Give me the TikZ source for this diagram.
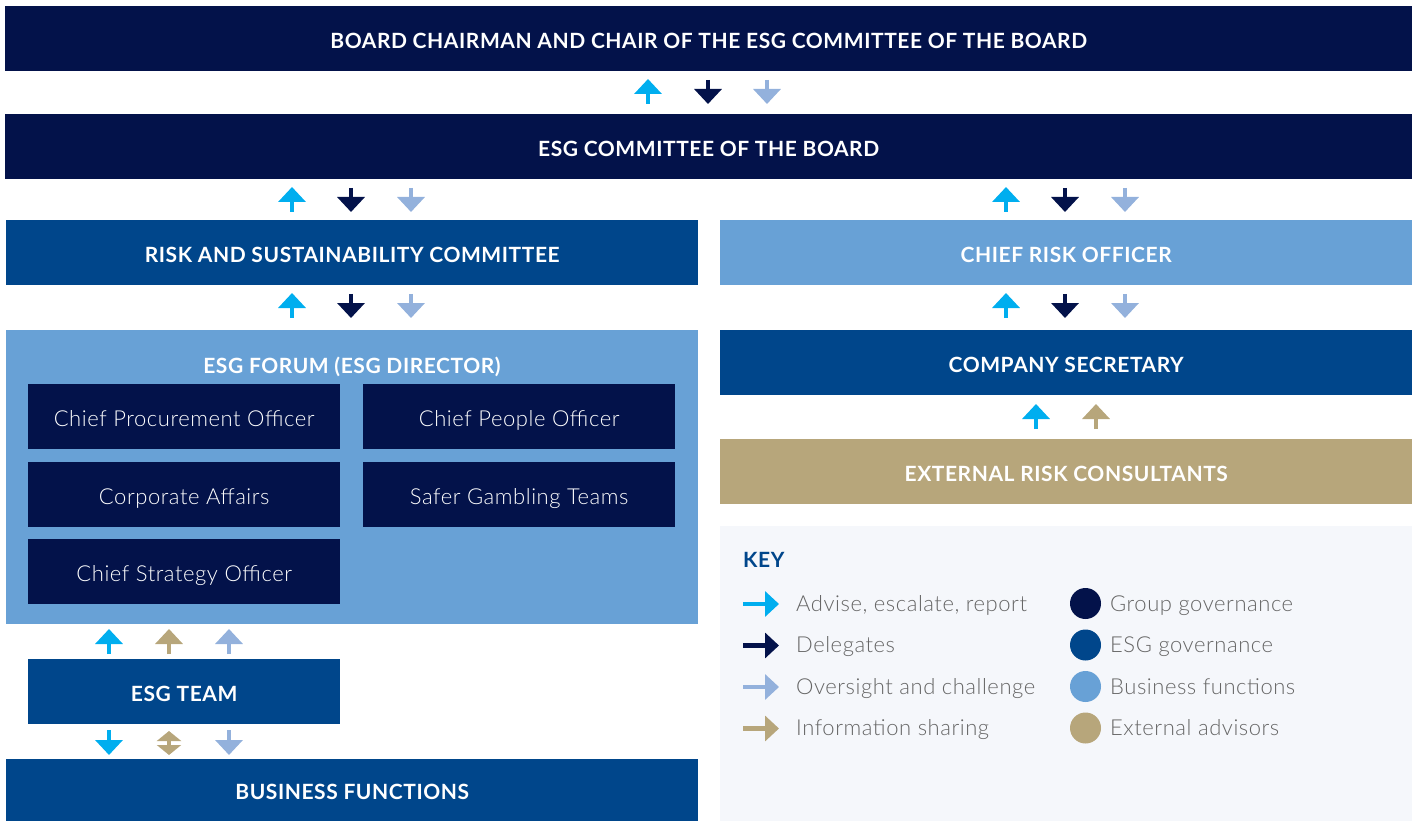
\documentclass[tikz,border=0pt]{standalone}
\usepackage{fontspec}
\setmainfont{Lato}
\newfontfamily\headf{Lato}[LetterSpace=2.7]
\newfontfamily\lightf{Lato Light}[LetterSpace=2.5]
\usetikzlibrary{arrows.meta}
\definecolor{navy}{HTML}{03124A}
\definecolor{esgb}{HTML}{00468B}
\definecolor{lightb}{HTML}{68A1D6}
\definecolor{tanc}{HTML}{B7A67B}
\definecolor{cyanA}{HTML}{00AEEF}
\definecolor{lightA}{HTML}{93B1DC}
\definecolor{keybg}{HTML}{F5F7FB}
\definecolor{keytxt}{HTML}{666666}
\tikzset{
  box/.style={draw=none, anchor=north west, inner sep=0pt, text=white,
     text height=19pt, text depth=0pt,
     font=\fontsize{21}{24}\headf\bfseries},
  inbox/.style={draw=none, fill=navy, anchor=north west, inner sep=0pt, text=white,
     text height=19pt, text depth=0pt,
     minimum width=312pt, minimum height=65pt, font=\fontsize{22}{26}\lightf},
  varr/.style={line width=4.6pt, line cap=butt, draw=#1, -{Triangle[width=27pt,length=15pt]}},
  darr/.style={line width=4.6pt, line cap=butt, draw=#1, {Triangle[width=24pt,length=10pt]}-{Triangle[width=24pt,length=10pt]}},
  karr/.style={line width=4.4pt, line cap=butt, draw=#1, -{Triangle[width=25pt,length=14pt]}},
  ktxt/.style={anchor=west, inner sep=0pt, text=keytxt, text height=16pt, text depth=0pt,
     font=\fontsize{22}{26}\lightf},
  kdot/.style={circle, fill=#1, minimum size=31pt, inner sep=0pt},
}
\begin{document}
\begin{tikzpicture}[x=1pt,y=-1pt]
\useasboundingbox (0,0) rectangle (1417,821);
% main boxes
\node[box, fill=navy, minimum width=1407pt, minimum height=65pt] (board) at (5,6) {BOARD CHAIRMAN AND CHAIR OF THE ESG COMMITTEE OF THE BOARD};
\node[box, fill=navy, minimum width=1407pt, minimum height=65pt] (esgc) at (5,114) {ESG COMMITTEE OF THE BOARD};
\node[box, fill=esgb, minimum width=692pt, minimum height=65pt] (rsc) at (6,220) {RISK AND SUSTAINABILITY COMMITTEE};
\node[box, fill=lightb, minimum width=692pt, minimum height=65pt] (cro) at (720,220) {CHIEF RISK OFFICER};
\node[box, fill=lightb, minimum width=692pt, minimum height=294pt] (forum) at (6,330) {};
\node[box, anchor=center] (forumt) at (352,364) {ESG FORUM (ESG DIRECTOR)};
\node[box, fill=esgb, minimum width=692pt, minimum height=65pt] (cs) at (720,330) {COMPANY SECRETARY};
\node[box, fill=tanc, minimum width=692pt, minimum height=65pt] (ext) at (720,439) {EXTERNAL RISK CONSULTANTS};
% inner boxes
\node[inbox] (cpo) at (28,384) {Chief Procurement Officer};
\node[inbox] (cpeo) at (363,384) {Chief People Officer};
\node[inbox] (ca) at (28,462) {Corporate Affairs};
\node[inbox] (sgt) at (363,462) {Safer Gambling Teams};
\node[inbox] (cso) at (28,539) {Chief Strategy Officer};
\node[box, fill=esgb, minimum width=312pt, minimum height=65pt] (team) at (28,659) {ESG TEAM};
\node[box, fill=esgb, minimum width=692pt, minimum height=62pt] (bf) at (6,759) {BUSINESS FUNCTIONS};
% key
\node[box, fill=keybg, minimum width=692pt, minimum height=295pt] (key) at (720,526) {};
\node[anchor=west, inner sep=0pt, text=esgb, font=\fontsize{21}{24}\headf\bfseries] (keyt) at (743,560) {KEY};
\draw[karr=cyanA] (743,604) -- (779,604);
\draw[karr=navy] (743,645.5) -- (779,645.5);
\draw[karr=lightA] (743,687) -- (779,687);
\draw[karr=tanc] (743,728.5) -- (779,728.5);
\node[ktxt] (k1) at (796,603) {Advise, escalate, report};
\node[ktxt] (k2) at (796,644.5) {Delegates};
\node[ktxt] (k3) at (796,686) {Oversight and challenge};
\node[ktxt] (k4) at (796,727.5) {Information sharing};
\node[kdot=navy] (d1) at (1085.5,603.5) {};
\node[kdot=esgb] (d2) at (1085.5,645) {};
\node[kdot=lightb] (d3) at (1085.5,686.5) {};
\node[kdot=tanc] (d4) at (1085.5,728) {};
\node[ktxt] (l1) at (1110,603) {Group governance};
\node[ktxt] (l2) at (1110,644.5) {ESG governance};
\node[ktxt] (l3) at (1110,686) {Business functions};
\node[ktxt] (l4) at (1110,727.5) {External advisors};
% arrows board / esgc
\draw[varr=cyanA] (648,104) -- (648,79);
\draw[varr=navy] (708,80) -- (708,104);
\draw[varr=lightA] (767,80) -- (767,104);
% esgc / rsc and cro
\foreach \x in {292,1006} {
  \draw[varr=cyanA] (\x,212) -- (\x,187);
  \draw[varr=navy] (\x+59,188) -- (\x+59,212);
  \draw[varr=lightA] (\x+119,188) -- (\x+119,212);
  \draw[varr=cyanA] (\x,318) -- (\x,293);
  \draw[varr=navy] (\x+59,294) -- (\x+59,318);
  \draw[varr=lightA] (\x+119,294) -- (\x+119,318);
}
% cs / ext
\draw[varr=cyanA] (1036,429) -- (1036,404);
\draw[varr=tanc] (1096,429) -- (1096,404);
% forum / team
\draw[varr=cyanA] (109,654) -- (109,629);
\draw[varr=tanc] (169,654) -- (169,629);
\draw[varr=lightA] (229,654) -- (229,629);
% team / bf
\draw[varr=cyanA] (109,730) -- (109,755);
\draw[darr=tanc] (169,731) -- (169,755);
\draw[varr=lightA] (229,730) -- (229,755);
\end{tikzpicture}
\end{document}
